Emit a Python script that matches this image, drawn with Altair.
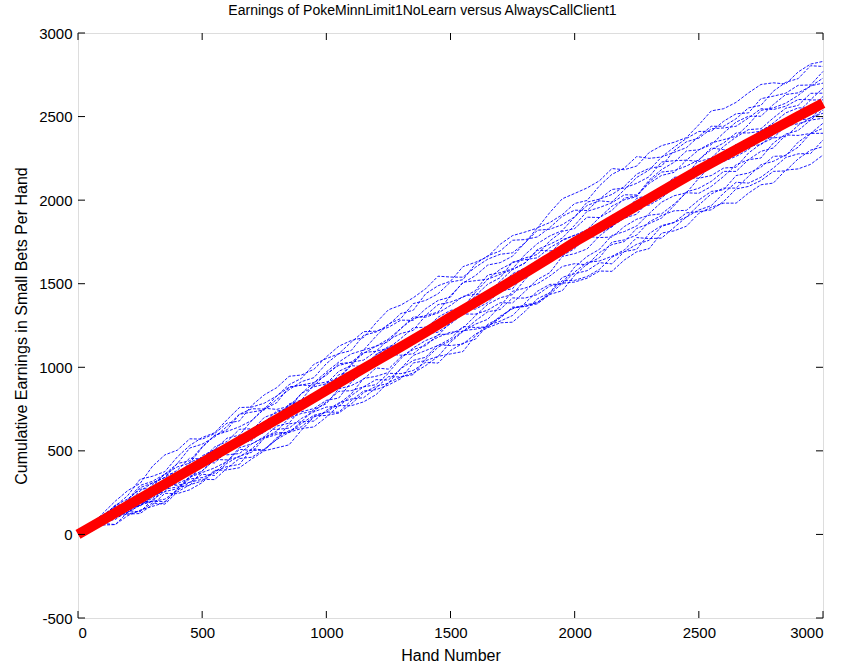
import altair as alt
import pandas as pd

hands = list(range(0, 3001, 50))
mean_hands = list(range(0, 3001, 100))

mean_line = [0, 86, 172, 258, 344, 430, 516, 602, 688, 774, 862, 950, 1036, 1122, 1210, 1300,
             1388, 1476, 1564, 1656, 1750, 1836, 1922, 2010, 2096, 2181, 2262, 2342, 2422, 2502, 2580]

run_a = [0,60,96,132,207,293,318,361,424,440,525,591,626,719,732,745,808,866,914,938,1022,1081,1100,1191,1211,1252,1322,1341,1440,1488,1515,1602,1628,1662,1736,1788,1809,1833,1926,2008,2040,2073,2116,2189,2182,2204,2285,2326,2346,2374,2451,2534,2547,2585,2642,2692,2702,2695,2767,2814,2830]
run_b = [0,51,126,199,262,305,408,476,504,572,570,603,666,679,772,835,878,946,954,988,1062,1126,1160,1178,1266,1344,1372,1416,1470,1545,1540,1539,1598,1647,1676,1685,1744,1820,1826,1853,1900,1968,1996,1989,2062,2136,2180,2258,2286,2314,2381,2442,2442,2487,2552,2567,2652,2705,2727,2804,2800]
run_c = [0,58,106,174,182,215,288,361,404,427,520,593,616,644,682,755,748,766,844,883,902,931,1010,1103,1126,1169,1232,1291,1310,1330,1430,1504,1548,1612,1626,1665,1744,1835,1866,1913,1980,1998,2086,2154,2192,2261,2250,2258,2316,2369,2411,2412,2472,2517,2522,2607,2622,2640,2687,2689,2770]
run_d = [0,58,76,104,192,260,308,341,424,517,540,583,646,719,752,750,828,896,934,1018,1052,1081,1150,1213,1216,1239,1282,1281,1350,1400,1420,1509,1518,1527,1586,1625,1654,1675,1756,1813,1830,1898,1896,1939,2012,2026,2120,2183,2226,2294,2301,2332,2402,2467,2502,2502,2572,2632,2642,2681,2730]
run_e = [0,33,106,174,212,270,278,291,344,432,460,508,576,594,682,750,788,881,894,908,972,1031,1080,1103,1186,1259,1292,1381,1400,1440,1510,1524,1618,1667,1696,1760,1764,1780,1836,1903,1940,1938,2006,2064,2072,2101,2140,2228,2236,2239,2301,2342,2362,2382,2452,2537,2552,2580,2627,2684,2700]
run_f = [0,56,96,169,162,170,228,286,334,362,450,523,556,629,632,670,738,751,844,908,952,1021,1030,1043,1096,1164,1202,1221,1310,1375,1390,1419,1458,1552,1566,1590,1674,1740,1786,1818,1900,1988,2006,2034,2082,2156,2190,2203,2296,2349,2371,2427,2432,2442,2492,2547,2542,2562,2602,2601,2670]
run_g = [0,25,66,59,132,175,198,281,304,337,410,478,516,534,622,700,728,761,804,898,912,936,1020,1083,1126,1154,1232,1301,1300,1325,1370,1424,1438,1437,1516,1585,1624,1705,1736,1773,1850,1933,1956,1984,2032,2031,2100,2148,2166,2239,2231,2252,2322,2377,2422,2427,2492,2550,2567,2639,2640]
run_h = [0,70,116,169,232,330,348,376,464,532,580,608,686,759,762,785,828,881,894,888,962,1011,1030,1088,1096,1114,1172,1236,1240,1270,1320,1339,1428,1497,1536,1630,1644,1655,1716,1758,1790,1793,1856,1909,1922,2011,2030,2068,2136,2149,2241,2302,2342,2402,2402,2412,2462,2522,2552,2551,2620]
run_i = [0,33,76,129,142,135,208,256,274,332,340,368,436,519,542,585,648,666,754,823,862,956,970,998,1076,1114,1142,1146,1210,1265,1280,1349,1348,1387,1456,1470,1564,1630,1676,1763,1790,1823,1896,1964,2002,2021,2110,2168,2176,2204,2241,2312,2302,2302,2362,2417,2452,2465,2527,2599,2600]
run_j = [0,48,106,104,172,220,238,336,354,387,470,508,536,539,602,655,668,736,734,753,802,816,910,973,1016,1099,1122,1156,1230,1300,1340,1359,1448,1527,1556,1585,1624,1700,1696,1703,1770,1813,1836,1844,1902,1971,1970,2013,2076,2149,2181,2192,2282,2332,2352,2407,2412,2437,2502,2571,2580]
run_k = [0,43,66,129,122,140,188,181,254,297,320,383,386,399,452,500,518,536,624,703,732,781,840,933,946,969,1052,1116,1160,1190,1270,1359,1378,1422,1486,1560,1594,1590,1666,1718,1740,1798,1806,1839,1912,1996,2020,2063,2126,2129,2201,2247,2262,2332,2322,2332,2392,2440,2477,2489,2560]
run_l = [0,56,96,114,202,280,308,341,384,457,450,453,516,559,582,610,688,776,794,838,902,976,1010,1003,1076,1124,1142,1196,1200,1210,1260,1319,1318,1342,1386,1385,1454,1525,1566,1663,1680,1708,1786,1844,1892,1916,2000,2053,2066,2134,2131,2147,2192,2197,2282,2337,2372,2445,2457,2479,2540]
run_m = [0,26,76,149,152,175,218,271,284,292,380,448,486,564,592,625,698,781,804,828,872,871,940,988,1006,1079,1072,1081,1140,1180,1210,1214,1278,1332,1346,1415,1414,1435,1486,1503,1600,1663,1706,1789,1812,1846,1920,1988,2026,2044,2131,2207,2232,2262,2302,2377,2372,2380,2447,2494,2520]
run_n = [0,23,66,129,132,175,238,256,344,392,410,483,476,484,542,580,608,611,674,748,782,871,890,928,996,989,1062,1106,1130,1195,1200,1234,1308,1377,1416,1435,1524,1605,1636,1668,1710,1783,1776,1779,1842,1886,1910,1918,1976,2044,2041,2082,2142,2212,2242,2252,2342,2395,2417,2479,2490]
run_o = [0,50,96,99,162,215,228,296,294,312,360,353,426,469,492,575,598,611,664,713,732,731,800,858,866,894,932,1026,1040,1065,1150,1214,1258,1287,1366,1455,1474,1500,1546,1603,1620,1613,1686,1734,1752,1831,1860,1893,1966,2049,2071,2112,2172,2172,2242,2292,2312,2390,2387,2399,2460]
run_p = [0,53,76,89,142,185,198,196,264,342,370,398,436,509,502,505,568,611,634,643,702,771,770,793,836,909,942,956,1050,1120,1160,1219,1228,1242,1296,1360,1364,1390,1436,1458,1550,1618,1656,1749,1762,1791,1870,1908,1936,1939,2001,2052,2062,2147,2162,2197,2262,2265,2347,2399,2430]
run_q = [0,18,66,104,122,125,178,246,244,267,310,378,406,419,512,580,618,696,724,738,792,856,860,883,926,924,992,1041,1060,1135,1130,1139,1198,1237,1266,1270,1334,1410,1446,1538,1560,1578,1626,1619,1692,1736,1760,1843,1866,1899,1971,2037,2072,2072,2142,2212,2232,2270,2317,2399,2400]
run_r = [0,51,86,164,192,225,298,361,364,387,430,428,496,544,562,635,628,636,694,733,762,766,830,883,896,964,962,981,1030,1025,1100,1144,1168,1252,1276,1310,1384,1455,1496,1498,1570,1628,1636,1664,1702,1776,1770,1773,1836,1899,1941,1967,2042,2107,2102,2137,2192,2255,2277,2279,2360]
run_s = [0,48,56,59,112,145,168,191,274,347,380,448,446,464,512,505,578,621,644,708,712,726,780,848,886,904,992,1071,1100,1130,1170,1244,1238,1242,1306,1350,1374,1385,1446,1518,1520,1543,1586,1659,1692,1706,1800,1848,1866,1924,1931,1942,1992,2067,2082,2117,2172,2175,2247,2299,2320]
run_t = [0,13,66,109,132,195,198,211,264,312,330,328,396,454,462,510,568,661,674,678,742,786,810,818,876,944,942,966,1010,1065,1080,1094,1188,1257,1296,1355,1364,1380,1436,1503,1510,1533,1576,1574,1642,1691,1710,1803,1816,1844,1921,1957,1982,1982,2042,2092,2102,2180,2187,2214,2270]

runs = [run_a, run_b, run_c, run_d, run_e, run_f, run_g, run_h, run_i, run_j,
        run_k, run_l, run_m, run_n, run_o, run_p, run_q, run_r, run_s, run_t]

x_ticks = [0, 500, 1000, 1500, 2000, 2500, 3000]
y_ticks = [-500, 0, 500, 1000, 1500, 2000, 2500, 3000]

rows = []
for k, r in enumerate(runs):
    for h, v in zip(hands, r):
        rows.append({"run": k, "hand": h, "earn": v})
runs_df = pd.DataFrame(rows)
mean_df = pd.DataFrame({"hand": mean_hands, "earn": mean_line})

FONT = "Liberation Sans"
W, H = 745, 585
XMIN, XMAX, YMIN, YMAX = 0, 3000, -500, 3000
TL = 7  # tick length in px
tx = TL * (XMAX - XMIN) / W
ty = TL * (YMAX - YMIN) / H

xs = alt.Scale(domain=[XMIN, XMAX], nice=False, zero=False)
ys = alt.Scale(domain=[YMIN, YMAX], nice=False, zero=False)

xax = alt.Axis(values=x_ticks, tickSize=0, domain=False, grid=False, labelFontSize=15,
               labelFont=FONT, labelColor="#000", labelPadding=7, labelExpr="'' + datum.value",
               title="Hand Number",
               titleFont=FONT, titleFontSize=16, titleFontWeight="normal", titleColor="#000",
               titlePadding=7)
yax = alt.Axis(values=y_ticks, tickSize=0, domain=False, grid=False, labelFontSize=15,
               labelFont=FONT, labelColor="#000", labelPadding=6, labelExpr="'' + datum.value",
               title="Cumulative Earnings in Small Bets Per Hand",
               titleFont=FONT, titleFontSize=16, titleFontWeight="normal", titleColor="#000",
               titlePadding=9)

blue = alt.Chart(runs_df).mark_line(color="#0000ff", strokeWidth=0.9, strokeDash=[3, 1.5]).encode(
    x=alt.X("hand:Q", scale=xs, axis=xax),
    y=alt.Y("earn:Q", scale=ys, axis=yax),
    detail="run:N",
)
red = alt.Chart(mean_df).mark_line(color="#ff0000", strokeWidth=10).encode(
    x=alt.X("hand:Q", scale=xs), y=alt.Y("earn:Q", scale=ys)
)

xt = pd.DataFrame({"t": x_ticks})
yt = pd.DataFrame({"t": y_ticks})
tick_style = dict(color="#000", strokeWidth=1)
xb = alt.Chart(xt).mark_rule(**tick_style).encode(
    x=alt.X("t:Q", scale=xs), y=alt.datum(YMIN, scale=ys), y2=alt.datum(YMIN + ty))
xtop = alt.Chart(xt).mark_rule(**tick_style).encode(
    x=alt.X("t:Q", scale=xs), y=alt.datum(YMAX, scale=ys), y2=alt.datum(YMAX - ty))
yl = alt.Chart(yt).mark_rule(**tick_style).encode(
    y=alt.Y("t:Q", scale=ys), x=alt.datum(XMIN, scale=xs), x2=alt.datum(XMIN + tx))
yr = alt.Chart(yt).mark_rule(**tick_style).encode(
    y=alt.Y("t:Q", scale=ys), x=alt.datum(XMAX, scale=xs), x2=alt.datum(XMAX - tx))

chart = alt.layer(blue, red, xb, xtop, yl, yr).properties(
    width=W, height=H,
    title=alt.TitleParams("Earnings of PokeMinnLimit1NoLearn versus AlwaysCallClient1",
                          font=FONT, fontSize=14, fontWeight="normal", color="#000",
                          anchor="middle", offset=8, dx=-28),
    autosize=alt.AutoSizeParams(type="none"),
    padding={"left": 78, "top": 33, "right": 22, "bottom": 50},
).configure_view(stroke="#000", strokeWidth=1).configure(background="white")

chart.save("out.html", embed_options={"renderer": "svg", "actions": False})
